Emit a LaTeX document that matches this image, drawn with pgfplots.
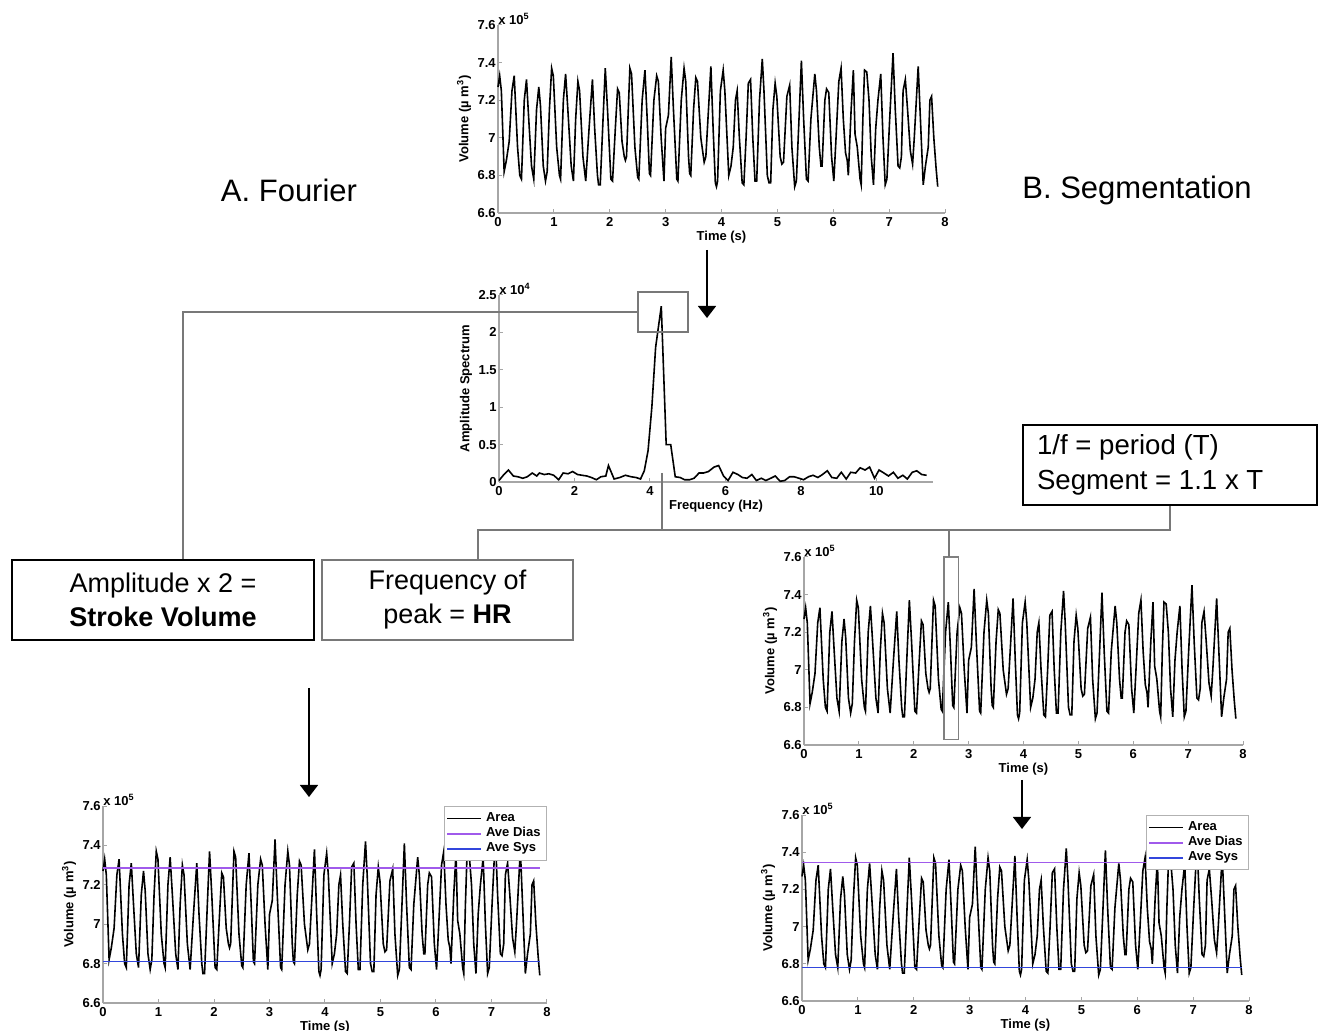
\documentclass[border=0pt]{standalone}
\usepackage{pgfplots}
\pgfplotsset{compat=1.18}
\usepackage{pgfplotstable}
\usepackage{fontspec}
\setmainfont{Liberation Sans}
\usetikzlibrary{arrows.meta}

\pgfplotstableread{
t v
0.00 7.27
0.03 7.33
0.06 7.25
0.11 6.82
0.15 6.88
0.20 6.98
0.25 7.25
0.29 7.33
0.35 6.95
0.39 6.80
0.42 6.78
0.47 7.20
0.51 7.31
0.55 7.10
0.60 6.85
0.64 6.78
0.69 7.15
0.73 7.27
0.76 7.17
0.81 6.85
0.85 6.77
0.88 6.82
0.92 7.15
0.96 7.37
0.99 7.33
1.05 6.95
1.10 6.80
1.12 6.78
1.17 7.20
1.21 7.34
1.25 7.15
1.31 6.85
1.35 6.77
1.39 7.10
1.43 7.30
1.46 7.25
1.52 6.90
1.57 6.77
1.63 7.05
1.69 7.31
1.73 7.05
1.78 6.80
1.80 6.75
1.83 6.75
1.88 7.10
1.92 7.37
1.96 7.15
2.02 6.78
2.05 6.77
2.10 7.05
2.14 7.26
2.17 7.24
2.22 6.98
2.26 6.90
2.28 6.88
2.30 6.90
2.36 7.37
2.39 7.34
2.45 6.95
2.50 6.79
2.52 6.78
2.58 7.20
2.63 7.36
2.67 7.10
2.71 6.81
2.73 6.80
2.79 7.20
2.84 7.33
2.87 7.30
2.92 7.00
2.97 6.77
3.00 7.05
3.05 7.12
3.10 7.43
3.14 7.15
3.20 6.78
3.22 6.77
3.28 7.20
3.33 7.37
3.36 7.30
3.41 6.90
3.43 6.81
3.45 6.80
3.50 7.15
3.54 7.32
3.57 7.30
3.63 7.00
3.69 6.87
3.72 6.90
3.81 7.38
3.85 7.05
3.89 6.76
3.91 6.74
3.93 6.77
3.98 7.25
4.03 7.36
4.06 7.25
4.13 6.80
4.17 6.85
4.21 6.95
4.25 7.20
4.28 7.25
4.32 7.00
4.37 6.76
4.40 6.75
4.44 7.00
4.48 7.29
4.52 7.31
4.56 7.00
4.60 6.77
4.63 6.77
4.68 7.20
4.73 7.42
4.76 7.25
4.82 6.80
4.85 6.76
4.88 6.76
4.92 7.15
4.96 7.29
4.99 7.22
5.05 6.90
5.08 6.86
5.11 6.87
5.17 7.22
5.22 7.28
5.26 6.95
5.31 6.74
5.34 6.77
5.38 7.05
5.43 7.41
5.47 7.10
5.52 6.78
5.55 6.77
5.60 7.10
5.67 7.34
5.70 7.25
5.75 6.95
5.78 6.85
5.80 6.85
5.85 7.20
5.88 7.26
5.92 7.24
5.97 6.90
6.01 6.77
6.05 7.00
6.10 7.30
6.14 7.37
6.18 7.10
6.22 6.92
6.25 6.88
6.27 6.80
6.32 7.15
6.36 7.36
6.39 7.02
6.43 6.95
6.48 6.78
6.50 6.75
6.53 7.10
6.56 7.36
6.60 7.35
6.64 7.20
6.68 6.90
6.72 6.75
6.76 7.05
6.80 7.20
6.85 7.34
6.89 7.00
6.93 6.75
6.96 6.78
7.01 7.10
7.07 7.45
7.11 7.15
7.16 6.85
7.19 6.84
7.22 6.90
7.25 7.25
7.29 7.31
7.33 7.15
7.38 6.93
7.42 6.86
7.45 7.00
7.52 7.38
7.56 7.10
7.61 6.75
7.65 6.85
7.70 6.95
7.73 7.20
7.76 7.22
7.80 7.00
7.84 6.84
7.87 6.74
}\sig

\pgfplotstableread{
f a
0.00 0.02
0.13 0.10
0.25 0.16
0.38 0.08
0.50 0.07
0.63 0.05
0.75 0.07
0.88 0.12
1.00 0.08
1.07 0.12
1.20 0.10
1.32 0.11
1.45 0.09
1.58 0.03
1.70 0.12
1.83 0.11
1.95 0.14
2.08 0.10
2.20 0.09
2.33 0.08
2.45 0.06
2.58 0.03
2.70 0.07
2.83 0.08
2.90 0.22
3.05 0.04
3.20 0.06
3.35 0.09
3.50 0.07
3.63 0.06
3.75 0.04
3.85 0.15
3.95 0.42
4.05 1.00
4.15 1.80
4.30 2.35
4.43 0.50
4.55 0.50
4.67 0.07
4.80 0.06
4.92 0.03
5.05 0.03
5.17 0.05
5.30 0.12
5.42 0.12
5.55 0.14
5.70 0.20
5.82 0.22
5.95 0.08
6.07 0.02
6.20 0.13
6.33 0.10
6.45 0.06
6.57 0.05
6.70 0.10
6.82 0.02
6.95 0.05
7.07 0.02
7.20 0.05
7.32 0.08
7.45 0.01
7.57 0.02
7.70 0.07
7.82 0.07
7.95 0.05
8.07 0.03
8.20 0.07
8.32 0.09
8.45 0.06
8.57 0.10
8.70 0.15
8.82 0.06
8.95 0.05
9.07 0.13
9.20 0.04
9.32 0.13
9.45 0.12
9.57 0.19
9.70 0.16
9.82 0.20
9.95 0.05
10.07 0.16
10.20 0.12
10.32 0.08
10.45 0.13
10.57 0.05
10.70 0.09
10.82 0.04
10.95 0.13
11.07 0.15
11.20 0.10
11.33 0.09
}\spec

\definecolor{dias}{RGB}{160,90,235}
\definecolor{sys}{RGB}{50,70,220}
\definecolor{conn}{RGB}{120,120,120}

\newcommand{\tf}{\bfseries\fontsize{6.5}{7}\selectfont}

\pgfplotsset{
  mat/.style={
    scale only axis, clip=false,
    axis x line*=bottom, axis y line*=left,
    axis line style={draw=gray!70, line width=0.6pt},
    tick align=inside, major tick length=2pt,
    tick style={gray!70, line width=0.5pt},
    ticklabel style={font=\tf, inner sep=1pt},
    xticklabel style={yshift=-1pt},
    label style={font=\tf},
    /pgf/number format/assume math mode=true,
    xlabel style={inner sep=1pt, yshift=0pt},
    ylabel style={inner sep=1pt, yshift=1pt},
  },
  vol/.style={
    mat,
    xmin=0, xmax=8, ymin=6.6, ymax=7.6,
    xtick={0,1,2,3,4,5,6,7,8},
    ytick={6.6,6.8,7,7.2,7.4,7.6},
    yticklabels={6.6,6.8,7,7.2,7.4,7.6},
    xlabel={Time (s)},
    ylabel={Volume (µ m\textsuperscript{3})},
  },
  leg/.style={
    legend style={at={(1,1)}, anchor=north east, draw=gray!60, line width=0.5pt,
      font=\tf, inner sep=1pt, row sep=-2.5pt, cells={anchor=west}},
  },
}

\begin{document}
\begin{tikzpicture}
\useasboundingbox (0,0) rectangle (659pt,-515.5pt);

% ---------- Top signal ----------
\begin{axis}[vol, at={(249pt,-106.5pt)}, anchor=south west, width=223.5pt, height=94pt]
\addplot[black, line width=0.8pt] table[x=t,y=v] {\sig};
\node[anchor=south west, font=\tf, inner sep=0pt] at (rel axis cs:0,1) {x 10\textsuperscript{5}};
\end{axis}

% ---------- Spectrum ----------
\begin{axis}[mat, at={(249.5pt,-241pt)}, anchor=south west, width=217pt, height=93.5pt,
  xmin=0, xmax=11.5, ymin=0, ymax=2.5,
  xtick={0,2,4,6,8,10}, ytick={0,0.5,1,1.5,2,2.5},
  yticklabels={0,0.5,1,1.5,2,2.5},
  xlabel={Frequency (Hz)}, ylabel={Amplitude Spectrum}]
\addplot[black, line width=0.8pt] table[x=f,y=a] {\spec};
\node[anchor=south west, font=\tf, inner sep=0pt] at (rel axis cs:0,1) {x 10\textsuperscript{4}};
\end{axis}

% ---------- Middle right (segmentation) ----------
\begin{axis}[vol, at={(402pt,-372.5pt)}, anchor=south west, width=219.5pt, height=94pt]
\addplot[black, line width=0.8pt] table[x=t,y=v] {\sig};
\draw[gray, line width=0.6pt] (axis cs:2.55,6.63) rectangle (axis cs:2.82,7.6);
\node[anchor=south west, font=\tf, inner sep=0pt] at (rel axis cs:0,1) {x 10\textsuperscript{5}};
\end{axis}

% ---------- Bottom left (Fourier result) ----------
\begin{axis}[vol, leg, at={(51.5pt,-501.5pt)}, anchor=south west, width=222pt, height=98.5pt]
\addplot[black, line width=0.8pt] table[x=t,y=v] {\sig};
\addlegendentry{Area}
\addplot[dias, line width=0.9pt] coordinates {(0,7.284) (7.88,7.284)};
\addlegendentry{Ave Dias}
\addplot[sys, line width=0.9pt] coordinates {(0,6.811) (7.88,6.811)};
\addlegendentry{Ave Sys}
\node[anchor=south west, font=\tf, inner sep=0pt] at (rel axis cs:0,1) {x 10\textsuperscript{5}};
\end{axis}

% ---------- Bottom right (segmentation result) ----------
\begin{axis}[vol, leg, at={(401pt,-500.5pt)}, anchor=south west, width=223.5pt, height=93pt]
\addplot[black, line width=0.8pt] table[x=t,y=v] {\sig};
\addlegendentry{Area}
\addplot[dias, line width=0.9pt] coordinates {(0,7.345) (7.88,7.345)};
\addlegendentry{Ave Dias}
\addplot[sys, line width=0.9pt] coordinates {(0,6.78) (7.88,6.78)};
\addlegendentry{Ave Sys}
\node[anchor=south west, font=\tf, inner sep=0pt] at (rel axis cs:0,1) {x 10\textsuperscript{5}};
\end{axis}

% ---------- Diagram (pixel coordinates) ----------
\begin{scope}[x=0.5pt, y=-0.5pt]
  \node[font=\fontsize{15.5}{18}\selectfont] at (289,190) {A. Fourier};
  \node[font=\fontsize{15.5}{18}\selectfont] at (1137,190) {B. Segmentation};

  % connectors
  \draw[conn, line width=0.7pt] (183,560) -- (183,312) -- (638,312);
  \draw[conn, line width=0.7pt] (638,292) rectangle (688,332);
  \draw[conn, line width=0.7pt] (662,473) -- (662,530);
  \draw[conn, line width=0.7pt] (478,560) -- (478,530) -- (1170,530) -- (1170,505);
  \draw[conn, line width=0.7pt] (949,530) -- (949,557);

  % arrows
  \draw[black, line width=0.7pt, -{Triangle[width=9pt,length=6pt]}] (707,250) -- (707,318);
  \draw[black, line width=0.7pt, -{Triangle[width=9pt,length=6pt]}] (309,688) -- (309,797);
  \draw[black, line width=0.7pt, -{Triangle[width=9pt,length=6pt]}] (1022,780) -- (1022,829);

  % boxes
  \draw[black, line width=1pt] (12,560) rectangle (314,640);
  \node[align=center, font=\fontsize{13.5}{17}\selectfont] at (163,600) {Amplitude x 2 =\\\textbf{Stroke Volume}};
  \draw[conn, line width=0.7pt] (322,560) rectangle (573,640);
  \node[align=center, font=\fontsize{13.5}{17}\selectfont] at (447.5,600) {Frequency of\\peak = \textbf{HR}};
  \draw[black, line width=1pt] (1023,425) rectangle (1317,505);
  \node[align=left, anchor=west, font=\fontsize{13.8}{17.5}\selectfont] at (1030,465) {1/f = period (T)\\Segment = 1.1 x T};
\end{scope}
\end{tikzpicture}
\end{document}
